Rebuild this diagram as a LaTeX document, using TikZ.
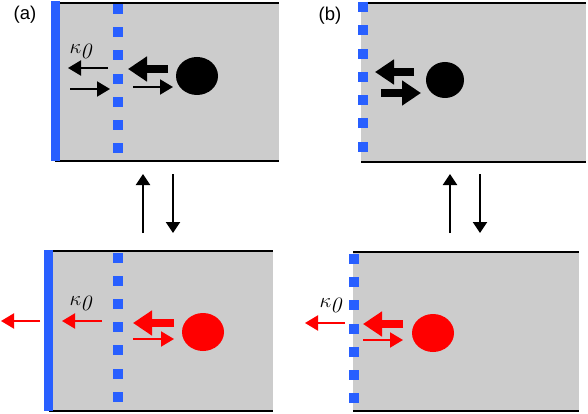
\documentclass[tikz,border=0pt]{standalone}
\usepackage{fontspec}
\setsansfont{Liberation Sans}
\usetikzlibrary{arrows.meta,shapes.geometric}
\definecolor{cellgray}{RGB}{204,204,204}
\definecolor{poreblue}{RGB}{40,95,255}
\definecolor{ionred}{RGB}{255,0,0}
\newcommand{\kapzero}{$\kappa$\kern-1pt\raisebox{-5pt}{\textit{0}}}
\begin{document}
\begin{tikzpicture}[x=1pt, y=-1pt,
    rim/.style={line width=2.5pt},
    wall/.style={poreblue, line width=9pt},
    pore/.style={rectangle, fill=poreblue, minimum size=10pt, inner sep=0pt},
    ion/.style={ellipse, minimum width=42pt, minimum height=38pt, inner sep=0pt},
    flux/.style={line width=2pt, -{Triangle[length=13pt,width=15pt]}},
    bigflux/.style={line width=8.5pt, -{Triangle[length=19pt,width=24pt]}},
    swap/.style={line width=2.2pt, -{Triangle[length=11pt,width=14pt]}},
    lab/.style={font=\sffamily\fontsize{18.5}{22}\selectfont},
    rate/.style={font=\fontsize{22}{26}\selectfont, inner sep=0pt}]
  \useasboundingbox (0,0) rectangle (588,414);
  % (a) top: closed cell, wall at the left
  \fill[cellgray] (53,3) rectangle (279,161);
  \draw[rim] (55,3) -- (279,3) (55,161) -- (279,161);
  \draw[wall] (55,1) -- (55,161);
  \foreach \i in {0,...,6}
    \node[pore] (poreAt\i) at (118,9+23.2*\i) {};
  \node[ion, fill=black] (ionAt) at (197,76) {};
  \node[rate] (rateAt) at (81,51) {\kapzero};
  \coordinate (a1) at (108,68); \coordinate (a2) at (68,68);
  \coordinate (a3) at (70,89);  \coordinate (a4) at (110,89);
  \coordinate (a5) at (168,69); \coordinate (a6) at (128,69);
  \coordinate (a7) at (133,87); \coordinate (a8) at (173,87);
  \draw[flux] (a1) -- (a2);
  \draw[flux] (a3) -- (a4);
  \draw[bigflux] (a5) -- (a6);
  \draw[flux] (a7) -- (a8);
  \node[lab] (labA) at (25,15) {(a)};
  % (b) top: pore at the edge
  \fill[cellgray] (361,3) rectangle (586,162);
  \draw[rim] (361,3) -- (586,3) (361,162) -- (586,162);
  \foreach \i in {0,...,6}
    \node[pore] (poreBt\i) at (363,7+23.3*\i) {};
  \node[ion, fill=black, minimum width=38pt, minimum height=36pt] (ionBt) at (445,80) {};
  \coordinate (b1) at (414,72); \coordinate (b2) at (375,72);
  \coordinate (b3) at (381,93); \coordinate (b4) at (421,93);
  \draw[bigflux] (b1) -- (b2);
  \draw[bigflux] (b3) -- (b4);
  \node[lab] (labB) at (330,16) {(b)};
  % transitions
  \coordinate (ua0) at (143,233); \coordinate (ua1) at (143,174);
  \coordinate (da0) at (173,174); \coordinate (da1) at (173,233);
  \coordinate (ub0) at (450,233); \coordinate (ub1) at (450,174);
  \coordinate (db0) at (480,174); \coordinate (db1) at (480,233);
  \draw[swap] (ua0) -- (ua1);
  \draw[swap] (da0) -- (da1);
  \draw[swap] (ub0) -- (ub1);
  \draw[swap] (db0) -- (db1);
  % (a) bottom
  \fill[cellgray] (47,251) rectangle (273,411);
  \draw[rim] (49,251) -- (273,251) (49,411) -- (273,411);
  \draw[wall] (48.5,250) -- (48.5,411);
  \foreach \i in {0,...,6}
    \node[pore] (poreAb\i) at (118,258+23.1*\i) {};
  \node[ion, fill=ionred] (ionAb) at (203,332) {};
  \node[rate] (rateAb) at (81,303) {\kapzero};
  \coordinate (c1) at (40,321);  \coordinate (c2) at (1,321);
  \coordinate (c3) at (102,321); \coordinate (c4) at (62,321);
  \coordinate (c5) at (174,323); \coordinate (c6) at (133,323);
  \coordinate (c7) at (133,339); \coordinate (c8) at (174,339);
  \draw[flux, ionred] (c1) -- (c2);
  \draw[flux, ionred] (c3) -- (c4);
  \draw[bigflux, ionred] (c5) -- (c6);
  \draw[flux, ionred] (c7) -- (c8);
  % (b) bottom
  \fill[cellgray] (353,252) rectangle (579,411);
  \draw[rim] (353,252) -- (579,252) (353,411) -- (579,411);
  \foreach \i in {0,...,6}
    \node[pore] (poreBb\i) at (354,259+23.2*\i) {};
  \node[ion, fill=ionred] (ionBb) at (433,333) {};
  \node[rate] (rateBb) at (331,305) {\kapzero};
  \coordinate (d1) at (345,323); \coordinate (d2) at (305,323);
  \coordinate (d3) at (403,324); \coordinate (d4) at (363,324);
  \coordinate (d5) at (363,340); \coordinate (d6) at (403,340);
  \draw[flux, ionred] (d1) -- (d2);
  \draw[bigflux, ionred] (d3) -- (d4);
  \draw[flux, ionred] (d5) -- (d6);
\end{tikzpicture}
\end{document}
